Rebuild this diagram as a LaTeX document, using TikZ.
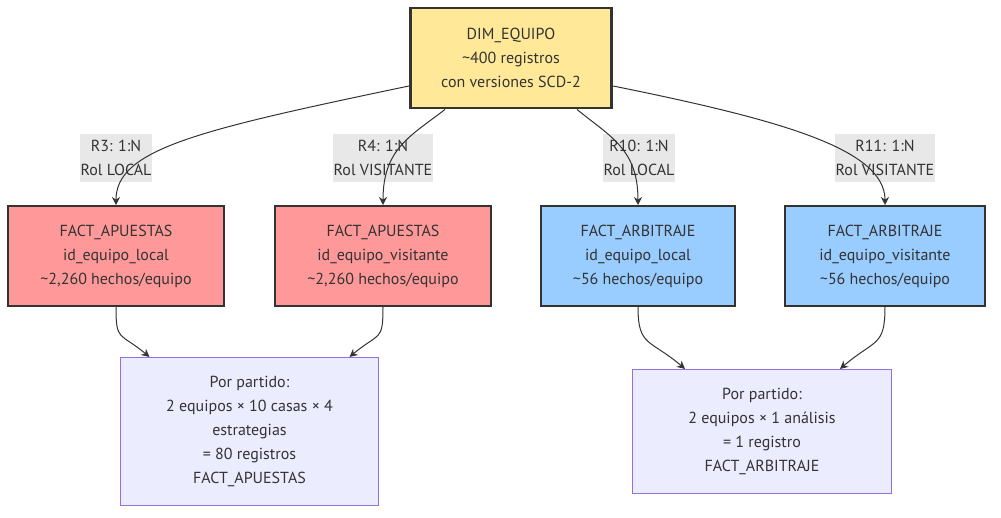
\documentclass[tikz,border=0pt]{standalone}
\usepackage{fontspec}
\setmainfont{PT Sans}
\usepackage{xcolor}
\usetikzlibrary{positioning,calc,arrows.meta}

\definecolor{dimfill}{HTML}{FFE999}
\definecolor{apfill}{HTML}{FF9999}
\definecolor{arfill}{HTML}{99CCFF}
\definecolor{notefill}{HTML}{ECECFF}
\definecolor{noteline}{HTML}{9370DB}
\definecolor{relfill}{HTML}{E8E8E8}
\definecolor{ink}{HTML}{333333}

\begin{document}
\begin{tikzpicture}[x=0.75pt,y=-0.75pt,
    every node/.style={font=\fontsize{12}{18}\selectfont, text=ink, align=center},
    dim/.style={draw=ink, line width=2.2pt, fill=dimfill, minimum width=151pt, minimum height=75pt},
    fact/.style={draw=ink, line width=1.5pt, minimum height=75pt},
    note/.style={draw=noteline, line width=0.8pt, fill=notefill, minimum width=194pt},
    rel/.style={fill=relfill, inner xsep=0.5pt, inner ysep=0pt, minimum height=36pt},
    link/.style={draw=ink, line width=0.75pt, -{Stealth[length=6pt,width=6pt]}}]
    \useasboundingbox (0,0) rectangle (1001,518);

    \node[dim] (dim) at (511,58) {DIM\_EQUIPO\\ \textasciitilde400 registros\\ con versiones SCD-2};

    \node[fact, fill=apfill, minimum width=162pt] (ap1) at (116,256)
        {FACT\_APUESTAS\\ id\_equipo\_local\\ \textasciitilde2,260 hechos/equipo};
    \node[fact, fill=apfill, minimum width=162pt] (ap2) at (383,256)
        {FACT\_APUESTAS\\ id\_equipo\_visitante\\ \textasciitilde2,260 hechos/equipo};
    \node[fact, fill=arfill, minimum width=146pt] (ar1) at (638,256)
        {FACT\_ARBITRAJE\\ id\_equipo\_local\\ \textasciitilde56 hechos/equipo};
    \node[fact, fill=arfill, minimum width=150pt] (ar2) at (885,256)
        {FACT\_ARBITRAJE\\ id\_equipo\_visitante\\ \textasciitilde56 hechos/equipo};

    \node[note, minimum height=111pt] (sum1) at (249.5,431.5)
        {Por partido:\\ 2 equipos × 10 casas × 4\\ estrategias\\ = 80 registros\\ FACT\_APUESTAS};
    \node[note, minimum height=93pt] (sum2) at (762,431.5)
        {Por partido:\\ 2 equipos × 1 análisis\\ = 1 registro\\ FACT\_ARBITRAJE};

    % edge labels
    \node[rel] (r3) at (116,158) {R3: 1:N\\ Rol LOCAL};
    \node[rel] (r4) at (383,158) {R4: 1:N\\ Rol VISITANTE};
    \node[rel] (r10) at (639,158) {R10: 1:N\\ Rol LOCAL};
    \node[rel] (r11) at (885,158) {R11: 1:N\\ Rol VISITANTE};

    \draw[link] ($(dim.west)+(0,28)$) .. controls +(-210,44) and +(0,-56) .. (ap1.north);
    \draw[link] ($(dim.south)+(-66,0)$) .. controls +(-35,27) and +(0,-56) .. (ap2.north);
    \draw[link] ($(dim.south)+(66,0)$) .. controls +(33,27) and +(0,-56) .. (ar1.north);
    \draw[link] ($(dim.east)+(0,28)$) .. controls +(168,34) and +(0,-56) .. (ar2.north);

    \draw[link] (ap1.south) .. controls +(0,35) and +(-30,-25) .. ($(sum1.north)+(-100,0)$);
    \draw[link] (ap2.south) .. controls +(0,35) and +(30,-25) .. ($(sum1.north)+(100,0)$);
    \draw[link] (ar1.south) .. controls +(0,40) and +(-35,-30) .. ($(sum2.north)+(-77,0)$);
    \draw[link] (ar2.south) .. controls +(0,40) and +(35,-30) .. ($(sum2.north)+(78,0)$);
\end{tikzpicture}
\end{document}
